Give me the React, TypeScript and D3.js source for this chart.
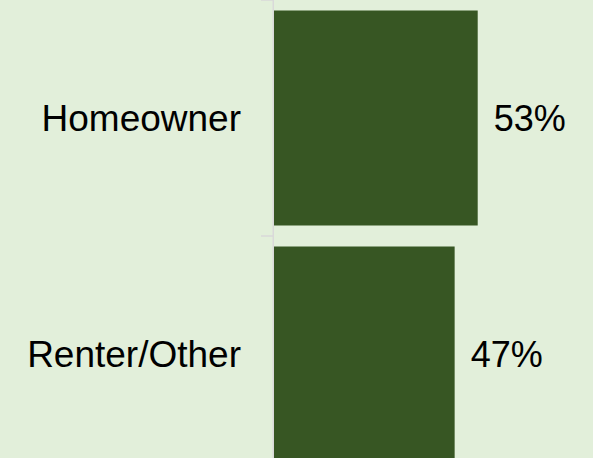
import React from "react";
import * as d3 from "d3";

const categories: string[] = ["Homeowner", "Renter/Other"];
const values: number[] = [53, 47];
const valueLabels: string[] = ["53%", "47%"];

const W = 593;
const H = 458;
const BG = "#e2efda";
const BAR = "#375623";
const AXIS = "#d9d9d9";

export default function App() {
  const x0 = 274;
  const x = d3.scaleLinear().domain([0, 53]).range([x0, 477.7]);
  const y = d3
    .scaleBand<string>()
    .domain(categories)
    .range([0, 472])
    .paddingInner(0.089)
    .paddingOuter(0.0445);
  const step = y.step();
  const tickYs = d3.range(categories.length + 1).map((i) => i * step);

  return (
    <svg
      width={W}
      height={H}
      style={{ position: "fixed", left: 0, top: 0, display: "block" }}
      fontFamily="'Liberation Sans', Arial, sans-serif"
    >
      <rect x={0} y={0} width={W} height={H} fill={BG} />
      {categories.map((c, i) => (
        <rect
          key={c}
          x={x(0)}
          y={y(c)!}
          width={x(values[i]) - x(0)}
          height={y.bandwidth()}
          fill={BAR}
        />
      ))}
      <line x1={x0 - 0.75} x2={x0 - 0.75} y1={0} y2={472} stroke={AXIS} strokeWidth={1.5} />
      {tickYs.map((t, i) => (
        <line key={i} x1={261} x2={x0 - 1} y1={t} y2={t} stroke={AXIS} strokeWidth={1.5} />
      ))}
      {categories.map((c, i) => (
        <text
          key={c + "l"}
          x={241}
          y={y(c)! + y.bandwidth() / 2}
          dy="0.35em"
          textAnchor="end"
          fontSize={37}
          fill="#000"
        >
          {c}
        </text>
      ))}
      {categories.map((c, i) => (
        <text
          key={c + "v"}
          x={x(values[i]) + 16}
          y={y(c)! + y.bandwidth() / 2}
          dy="0.35em"
          textAnchor="start"
          fontSize={36}
          fill="#000"
        >
          {valueLabels[i]}
        </text>
      ))}
    </svg>
  );
}
